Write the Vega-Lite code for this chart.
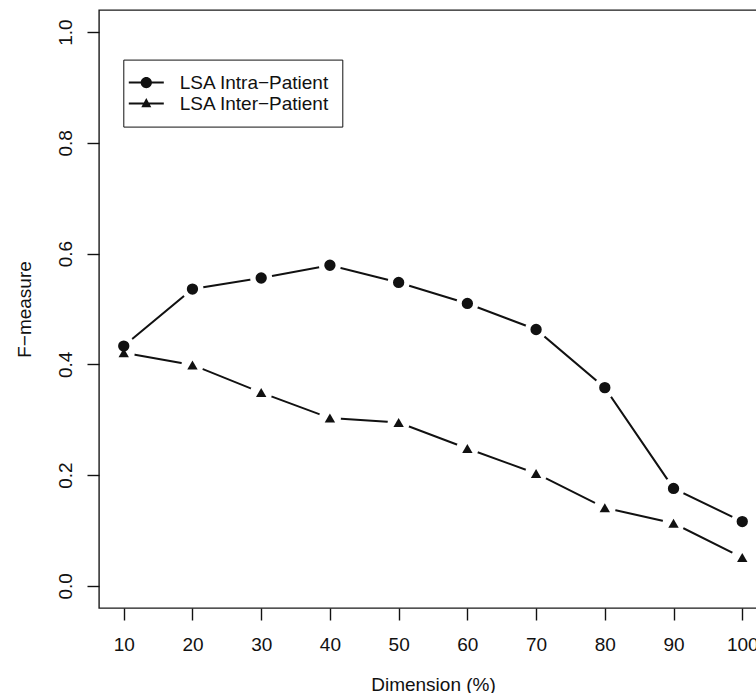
{
  "$schema": "https://vega.github.io/schema/vega-lite/v6.json",
  "width": 668,
  "height": 598,
  "autosize": {"type": "none"},
  "padding": {"left": 99, "top": 10, "right": -11, "bottom": 85},
  "background": "white",
  "config": {
    "view": {"stroke": "#1a1a1a", "strokeWidth": 1.4},
    "font": "Liberation Sans",
    "axis": {"grid": false}
  },
  "data": {
    "values": [
      {"series": "LSA Intra−Patient", "dimension": 10, "fmeasure": 0.433},
      {"series": "LSA Intra−Patient", "dimension": 20, "fmeasure": 0.536},
      {"series": "LSA Intra−Patient", "dimension": 30, "fmeasure": 0.556},
      {"series": "LSA Intra−Patient", "dimension": 40, "fmeasure": 0.579},
      {"series": "LSA Intra−Patient", "dimension": 50, "fmeasure": 0.548},
      {"series": "LSA Intra−Patient", "dimension": 60, "fmeasure": 0.510},
      {"series": "LSA Intra−Patient", "dimension": 70, "fmeasure": 0.463},
      {"series": "LSA Intra−Patient", "dimension": 80, "fmeasure": 0.358},
      {"series": "LSA Intra−Patient", "dimension": 90, "fmeasure": 0.176},
      {"series": "LSA Intra−Patient", "dimension": 100, "fmeasure": 0.116},
      {"series": "LSA Inter−Patient", "dimension": 10, "fmeasure": 0.421},
      {"series": "LSA Inter−Patient", "dimension": 20, "fmeasure": 0.399},
      {"series": "LSA Inter−Patient", "dimension": 30, "fmeasure": 0.349},
      {"series": "LSA Inter−Patient", "dimension": 40, "fmeasure": 0.303},
      {"series": "LSA Inter−Patient", "dimension": 50, "fmeasure": 0.295},
      {"series": "LSA Inter−Patient", "dimension": 60, "fmeasure": 0.248},
      {"series": "LSA Inter−Patient", "dimension": 70, "fmeasure": 0.203},
      {"series": "LSA Inter−Patient", "dimension": 80, "fmeasure": 0.141},
      {"series": "LSA Inter−Patient", "dimension": 90, "fmeasure": 0.113},
      {"series": "LSA Inter−Patient", "dimension": 100, "fmeasure": 0.051}
    ]
  },
  "encoding": {
    "x": {
      "field": "dimension",
      "type": "quantitative",
      "scale": {"domain": [6.4, 103.6], "nice": false, "zero": false},
      "axis": {
        "values": [10, 20, 30, 40, 50, 60, 70, 80, 90, 100],
        "title": "Dimension (%)",
        "domain": false,
        "tickSize": 12,
        "tickColor": "#111",
        "tickWidth": 1.4,
        "labelFont": "Liberation Sans",
        "labelFontSize": 19,
        "labelColor": "#111",
        "labelPadding": 30.5,
        "labelBaseline": "alphabetic",
        "labelFlush": false,
        "labelOverlap": false,
        "titleFont": "Liberation Sans",
        "titleFontSize": 19,
        "titleFontWeight": "normal",
        "titleColor": "#111",
        "titleX": 334,
        "titleY": 82,
        "titleBaseline": "alphabetic",
        "titleAlign": "center"
      }
    },
    "y": {
      "field": "fmeasure",
      "type": "quantitative",
      "scale": {"domain": [-0.04, 1.04], "nice": false, "zero": false},
      "axis": {
        "values": [0, 0.2, 0.4, 0.6, 0.8, 1.0],
        "format": ".1f",
        "title": "F−measure",
        "domain": false,
        "tickSize": 12,
        "tickColor": "#111",
        "tickWidth": 1.4,
        "labelFont": "Liberation Sans",
        "labelFontSize": 19,
        "labelColor": "#111",
        "labelAngle": 270,
        "labelAlign": "center",
        "labelBaseline": "alphabetic",
        "labelPadding": 15.3,
        "labelFlush": false,
        "labelOverlap": false,
        "titleFont": "Liberation Sans",
        "titleFontSize": 19,
        "titleFontWeight": "normal",
        "titleColor": "#111",
        "titleAngle": 270,
        "titleX": -69,
        "titleY": 299,
        "titleBaseline": "alphabetic",
        "titleAlign": "center"
      }
    }
  },
  "layer": [
    {
      "mark": {"type": "line", "color": "#111", "strokeWidth": 2},
      "encoding": {"detail": {"field": "series"}}
    },
    {
      "mark": {"type": "circle", "color": "white", "size": 484, "opacity": 1, "strokeWidth": 0},
      "encoding": {"detail": {"field": "series"}}
    },
    {
      "transform": [{"filter": "datum.series === 'LSA Intra−Patient'"}],
      "mark": {"type": "point", "shape": "circle", "filled": true, "color": "#111", "opacity": 1, "size": 128}
    },
    {
      "transform": [{"filter": "datum.series === 'LSA Inter−Patient'"}],
      "mark": {"type": "point", "shape": "triangle-up", "filled": true, "color": "#111", "opacity": 1, "size": 108}
    },
    {
      "mark": {"type": "point", "filled": true, "fill": "#111", "opacity": 0, "size": 400},
      "encoding": {
        "shape": {
          "field": "series",
          "type": "nominal",
          "scale": {
            "domain": ["LSA Intra−Patient", "LSA Inter−Patient"],
            "range": [
              "M-1.75,-0.1L-0.5,-0.1L-0.5,0.1L-1.75,0.1ZM0.5,-0.1L1.75,-0.1L1.75,0.1L0.5,0.1ZM0.565,0A0.565,0.565,0,1,1,-0.565,0A0.565,0.565,0,1,1,0.565,0Z",
              "M-1.75,-0.1L-0.22,-0.1L-0.22,0.1L-1.75,0.1ZM0.22,-0.1L1.75,-0.1L1.75,0.1L0.22,0.1ZM0,-0.55L0.5,0.37L-0.5,0.37Z"
            ]
          },
          "legend": {
            "title": null,
            "orient": "none",
            "legendX": 24.3,
            "legendY": 49.6,
            "strokeColor": "#111",
            "fillColor": "white",
            "padding": 13,
            "symbolSize": 400,
            "symbolStrokeWidth": 0,
            "symbolFillColor": "#111",
            "symbolOpacity": 1,
            "labelFont": "Liberation Sans",
            "labelFontSize": 19,
            "labelColor": "#111",
            "labelOffset": 23.5,
            "rowPadding": 1,
            "encode": {
              "legend": {"update": {"strokeWidth": {"value": 1.4}}}
            }
          }
        }
      }
    }
  ]
}
